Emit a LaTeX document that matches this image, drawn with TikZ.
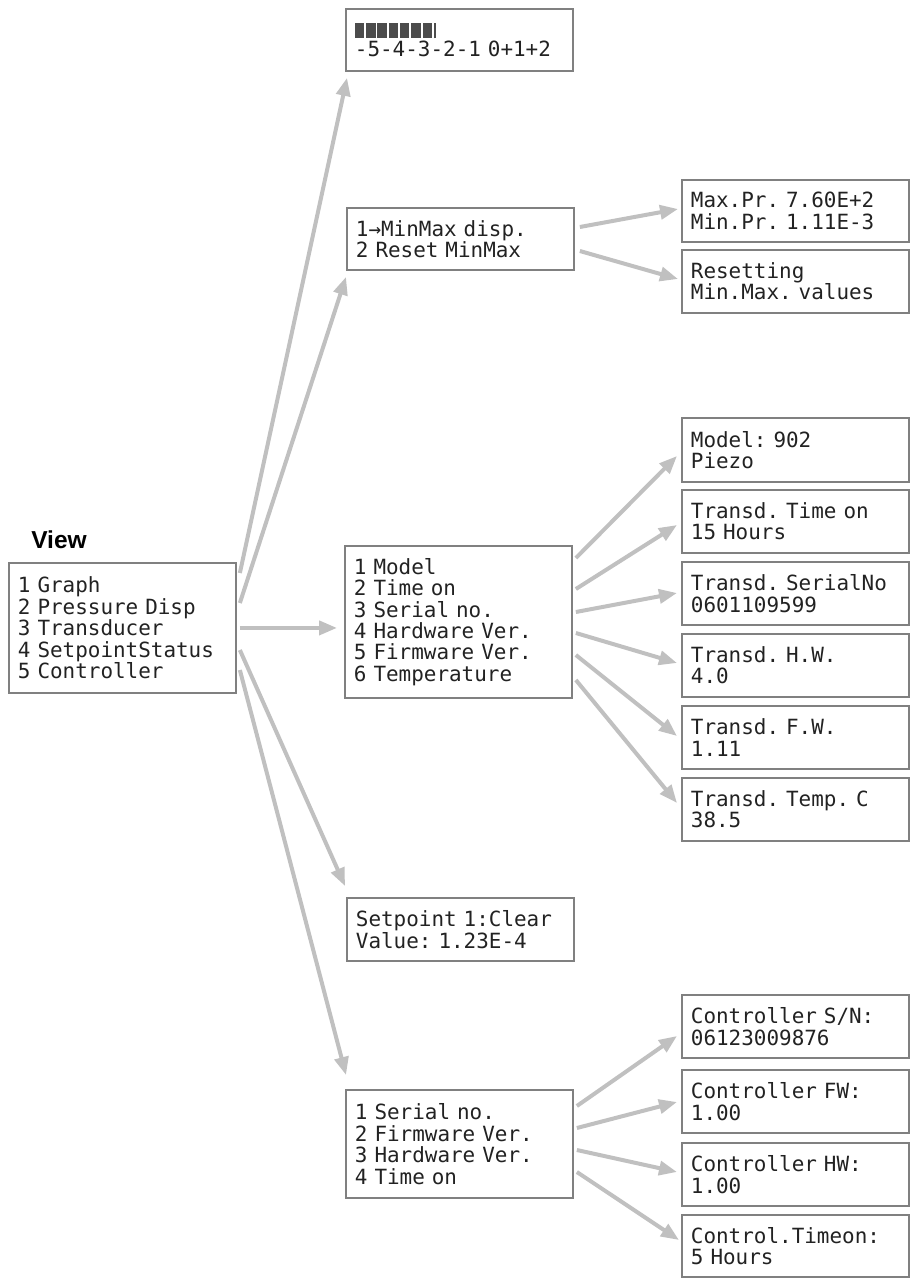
\documentclass[tikz,border=0pt]{standalone}
\usepackage{fontspec}
\setmainfont{Liberation Sans}
\newfontfamily\lcdfont{DejaVu Sans Mono}
\usetikzlibrary{arrows.meta,calc}
\definecolor{boxline}{HTML}{808080}
\definecolor{arrowgray}{HTML}{C0C0C0}
\definecolor{lcdtext}{HTML}{222222}
\newcommand\lcdblock{\rule{7.1pt}{11.25pt}\hspace{1.35pt}}
\newcommand\lcdbars{\textcolor{black!70}{\lcdblock\lcdblock\lcdblock\lcdblock\lcdblock\lcdblock\lcdblock\rule{1.9pt}{11.25pt}}}
\newcommand\lcdsetup{\lcdfont\fontsize{15.7pt}{16.1pt}\selectfont
  \spaceskip=9.45pt plus 0pt minus 0pt\xspaceskip=9.45pt plus 0pt minus 0pt\frenchspacing}
\tikzset{
  lcdbox/.style={draw=boxline, line width=1.4pt, rectangle, anchor=north west,
    inner xsep=6.75pt, inner ysep=0pt, text width=156.75pt, minimum width=170.25pt,
    align=left, text=lcdtext, font=\lcdsetup},
  link/.style={draw=arrowgray, line width=3pt, -{Triangle[length=13.5pt,width=10.5pt]}},
  title/.style={font=\bfseries\fontsize{18.4pt}{20pt}\selectfont, inner sep=0pt, anchor=base west}
}
\begin{document}
\begin{tikzpicture}[x=0.75pt,y=-0.75pt]
\useasboundingbox (0,0) rectangle (914,1281);

\node[title] (viewlabel) at (31,548) {View};
\node[lcdbox, minimum height=97.5pt] (view) at (8,562)
  {1 Graph\\2 Pressure Disp\\3 Transducer\\4 SetpointStatus\\5 Controller};

\node[lcdbox, minimum height=46.5pt] (graph) at (345,8) {\lcdbars\\[-2.6pt]-5-4-3-2-1 0+1+2};
\node[lcdbox, minimum height=46.5pt] (minmax) at (346,207) {1→MinMax disp.\\2 Reset MinMax};
\node[lcdbox, minimum height=46.5pt] (maxpr) at (681,179) {Max.Pr. 7.60E+2\\Min.Pr. 1.11E-3};
\node[lcdbox, minimum height=47.25pt] (reset) at (681,249) {Resetting\\Min.Max. values};

\node[lcdbox, minimum height=114pt] (trans) at (344,545)
  {1 Model\\2 Time on\\3 Serial no.\\4 Hardware Ver.\\5 Firmware Ver.\\6 Temperature};
\node[lcdbox, minimum height=48pt] (model) at (681,417) {Model: 902\\Piezo};
\node[lcdbox, minimum height=47.25pt] (timeon) at (681,489) {Transd. Time on\\15 Hours};
\node[lcdbox, minimum height=47.25pt] (serial) at (681,561) {Transd. SerialNo\\0601109599};
\node[lcdbox, minimum height=47.25pt] (hw) at (681,633) {Transd. H.W.\\4.0};
\node[lcdbox, minimum height=47.25pt] (fw) at (681,705) {Transd. F.W.\\1.11};
\node[lcdbox, minimum height=47.25pt] (temp) at (681,777) {Transd. Temp. C\\38.5};

\node[lcdbox, minimum height=47.25pt] (setp) at (346,897) {Setpoint 1:Clear\\Value: 1.23E-4};

\node[lcdbox, minimum height=81pt] (ctrl) at (345,1089)
  {1 Serial no.\\2 Firmware Ver.\\3 Hardware Ver.\\4 Time on};
\node[lcdbox, minimum height=47.25pt] (csn) at (681,994) {Controller S/N:\\06123009876};
\node[lcdbox, minimum height=47.25pt] (cfw) at (681,1069) {Controller FW:\\1.00};
\node[lcdbox, minimum height=47.25pt] (chw) at (681,1142) {Controller HW:\\1.00};
\node[lcdbox, minimum height=46.5pt] (ctime) at (681,1214) {Control.Timeon:\\5 Hours};

% connectors from View
\draw[link] ($(view.north east)+(3,11)$) -- ($(graph.south west)+(2,6)$);
\draw[link] ($(view.north east)+(3,41)$) -- ($(minmax.south west)+(0,6)$);
\draw[link] ($(view.east)+(3,0)$) -- ($(view.east -| trans.west)+(-7,0)$);
\draw[link] ($(view.north east)+(3,88)$) -- ($(setp.north west)+(-1,-11)$);
\draw[link] ($(view.north east)+(3,108)$) -- ($(ctrl.north west)+(1,-14)$);
% MinMax
\draw[link] ($(minmax.north east)+(5,20)$) -- ($(maxpr.north west)+(-3,30)$);
\draw[link] ($(minmax.north east)+(5,44)$) -- ($(reset.north west)+(-3,30)$);
% Transducer
\draw[link] ($(trans.north east)+(3,13)$) -- ($(model.north west)+(-4,39)$);
\draw[link] ($(trans.north east)+(3,44)$) -- ($(timeon.north west)+(-4,36)$);
\draw[link] ($(trans.north east)+(3,67)$) -- ($(serial.north west)+(-4,32)$);
\draw[link] ($(trans.north east)+(3,88)$) -- ($(hw.north west)+(-4,30)$);
\draw[link] ($(trans.north east)+(3,110)$) -- ($(fw.north west)+(-4,31)$);
\draw[link] ($(trans.north east)+(3,135)$) -- ($(temp.north west)+(-4,26)$);
% Controller
\draw[link] ($(ctrl.north east)+(3,17)$) -- ($(csn.north west)+(-4,42)$);
\draw[link] ($(ctrl.north east)+(3,39)$) -- ($(cfw.north west)+(-4,33)$);
\draw[link] ($(ctrl.north east)+(3,61)$) -- ($(chw.north west)+(-4,30)$);
\draw[link] ($(ctrl.north east)+(3,83)$) -- ($(ctime.north west)+(-2,26)$);
\end{tikzpicture}
\end{document}
